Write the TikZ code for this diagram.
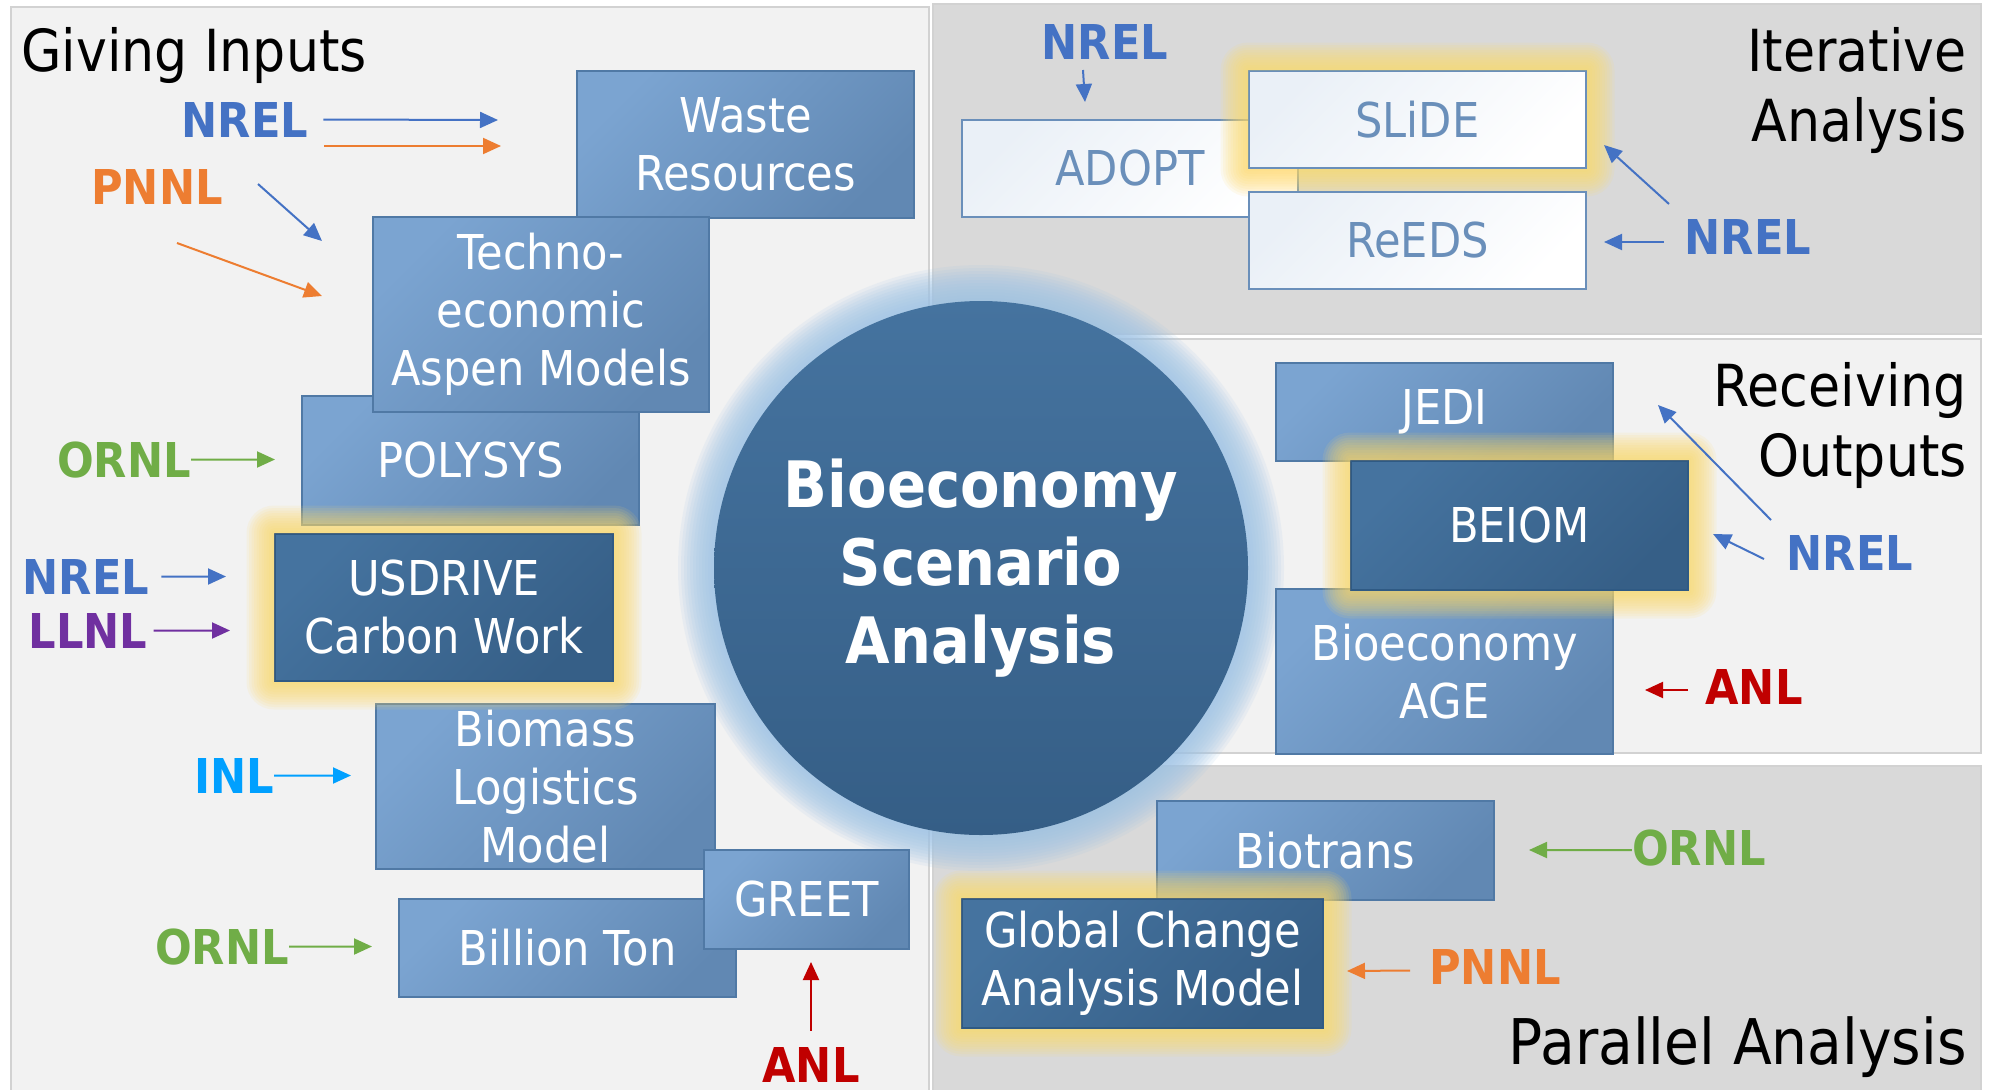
\documentclass[tikz,border=0pt]{standalone}
\usepackage{fontspec}
\setmainfont{DejaVu Sans}[FakeStretch=0.9]
\usepackage{tikz}
\usetikzlibrary{arrows.meta}

\definecolor{nrelc}{HTML}{4472C4}
\definecolor{pnnlc}{HTML}{ED7D31}
\definecolor{ornlc}{HTML}{70AD47}
\definecolor{llnlc}{HTML}{7030A0}
\definecolor{inlc}{HTML}{00A0FF}
\definecolor{anlc}{HTML}{C00000}
\definecolor{panellight}{HTML}{F2F2F2}
\definecolor{paneldark}{HTML}{D9D9D9}
\definecolor{panelline}{HTML}{D2D2D2}
\definecolor{lightT}{HTML}{7BA4D1}
\definecolor{lightB}{HTML}{6188B3}
\definecolor{lightline}{HTML}{5079A5}
\definecolor{darkT}{HTML}{45739F}
\definecolor{darkB}{HTML}{365F87}
\definecolor{darkline}{HTML}{2F5A84}
\definecolor{whiteT}{HTML}{EAF0F7}
\definecolor{whiteline}{HTML}{6A8FBA}
\definecolor{hubT}{HTML}{45739F}
\definecolor{hubB}{HTML}{355E86}
\definecolor{hubglow}{HTML}{9DC3E6}
\definecolor{glowc}{HTML}{FFD966}

\newcommand\boxfont{\fontsize{48}{58}\selectfont}
\newcommand\labfont{\fontsize{48}{58}\selectfont\bfseries}
\newcommand\headfont{\fontsize{58}{70}\selectfont}
\newcommand\hubfont{\fontsize{64}{78}\selectfont\bfseries}

% yellow halo round a node, left outside of it
\newcommand\glowbox[1]{%
  \foreach \gl in {2.5,5,...,27.5}
    \fill[glowc, opacity=.11, even odd rule, rounded corners=\gl pt]
      ([shift={(-\gl pt,-\gl pt)}]#1.south west) rectangle ([shift={(\gl pt,\gl pt)}]#1.north east)
      [sharp corners] (#1.south west) rectangle (#1.north east);
}

\begin{document}
\begin{tikzpicture}[x=1pt,y=-1pt]
\tikzstyle{every node}=[inner sep=0pt]
\tikzstyle{panel}=[draw=panelline, line width=1.5pt]
\tikzstyle{bluebox}=[rectangle, draw=lightline, line width=2pt, top color=lightT, bottom color=lightB, shading angle=45, text=white, align=center, font=\boxfont]
\tikzstyle{navybox}=[bluebox, draw=darkline, top color=darkT, bottom color=darkB, shading angle=45]
\tikzstyle{whitebox}=[bluebox, draw=whiteline, top color=whiteT, bottom color=white, shading angle=45, text=whiteline]
\tikzstyle{lab}=[font=\labfont, anchor=base]
\tikzstyle{head}=[font=\headfont, text=black, align=right]
\tikzstyle{arr}=[line width=2pt, -{Triangle[length=18pt,width=16pt]}]

\useasboundingbox (0,0) rectangle (1998,1090);
\fill[white] (0,0) rectangle (1998,1090);

% panels
\filldraw[panel, fill=panellight] (11,7) rectangle (929,1094);
\filldraw[panel, fill=paneldark] (933,4) rectangle (1981,334);
\filldraw[panel, fill=panellight] (933,339) rectangle (1981,753);
\filldraw[panel, fill=paneldark] (933,766) rectangle (1981,1094);

% centre circle
\foreach \gl in {36,33,...,3}
  \fill[hubglow, opacity=.13] (981,568) circle[radius=267pt+\gl pt];
\node[circle, minimum size=534pt, top color=hubT, bottom color=hubB, text=white, align=center, font=\hubfont] (hub) at (981,568) {Bioeconomy\\Scenario\\Analysis};

% giving inputs
\node[head, anchor=base west] (giving) at (21,71) {Giving Inputs};
\node[bluebox, minimum width=337pt, minimum height=147pt] (waste) at (745.5,144.5) {Waste\\Resources};
\node[bluebox, minimum width=337pt, minimum height=129pt] (polysys) at (470.5,460.5) {POLYSYS};
\node[bluebox, minimum width=336pt, minimum height=195pt] (techno) at (541,314.5) {Techno-\\economic\\Aspen Models};
\node[bluebox, minimum width=339pt, minimum height=165pt] (biomass) at (545.5,786.5) {Biomass\\Logistics\\Model};
\node[bluebox, minimum width=337pt, minimum height=98pt] (billion) at (567.5,948) {Billion Ton};
\node[bluebox, minimum width=205pt, minimum height=99pt] (greet) at (806.5,899.5) {GREET};
\node[navybox, minimum width=338pt, minimum height=147pt] (usdrive) at (444,607.5) {USDRIVE\\Carbon Work};
\glowbox{usdrive}

\node[lab, text=nrelc] (nrelA) at (245,137) {NREL};
\node[lab, text=pnnlc] (pnnlA) at (157,204) {PNNL};
\node[lab, text=ornlc] (ornlA) at (124,477) {ORNL};
\node[lab, text=nrelc] (nrelB) at (86,594) {NREL};
\node[lab, text=llnlc] (llnl) at (88,648) {LLNL};
\node[lab, text=inlc] (inl) at (234,793) {INL};
\node[lab, text=ornlc] (ornlB) at (222,964) {ORNL};
\node[lab, text=anlc] (anlA) at (811,1082) {ANL};

\coordinate (wasteB) at (498,120);
\coordinate (pnnlO1) at (324,146);
\coordinate (wasteO) at (501,146);
\coordinate (nrelB1) at (258,184);
\coordinate (technoB) at (322,241);
\coordinate (pnnlO2) at (177,243);
\coordinate (technoO) at (322,296);
\coordinate (polyIn) at (275,459.5);
\coordinate (usdIn1) at (226,576.5);
\coordinate (usdIn2) at (230,630.5);
\coordinate (bioIn) at (351,775.5);
\coordinate (billIn) at (372,946.5);
\coordinate (greetIn) at (811,962);

\draw[arr, nrelc] ([xshift=15pt]nrelA.east) -- (wasteB);
\draw[arr, pnnlc] (pnnlO1) -- (wasteO);
\draw[arr, nrelc] (nrelB1) -- (technoB);
\draw[arr, pnnlc] (pnnlO2) -- (technoO);
\draw[arr, ornlc] (ornlA.east) -- (polyIn);
\draw[arr, nrelc] ([xshift=12pt]nrelB.east) -- (usdIn1);
\draw[arr, llnlc] ([xshift=6pt]llnl.east) -- (usdIn2);
\draw[arr, inlc] (inl.east) -- (bioIn);
\draw[arr, ornlc] (ornlB.east) -- (billIn);
\draw[arr, anlc] ([yshift=16pt]anlA.north) -- (greetIn);

% iterative analysis
\node[head, anchor=north east] (iterative) at (1967,27) {Iterative\\Analysis};
\node[whitebox, minimum width=336pt, minimum height=97pt] (adopt) at (1130,168.5) {ADOPT};
\node[whitebox, minimum width=337pt, minimum height=97pt] (slide) at (1417.5,119.5) {SLiDE};
\glowbox{slide}
\node[whitebox, minimum width=337pt, minimum height=97pt] (reeds) at (1417.5,240.5) {ReEDS};

\node[lab, text=nrelc] (nrelC) at (1105,59) {NREL};
\node[lab, text=nrelc] (nrelD) at (1748,254) {NREL};
\coordinate (nrelC1) at (1083,70);
\coordinate (adoptIn) at (1085,102);
\coordinate (nrelD1) at (1669,204);
\coordinate (slideIn) at (1604,145);
\coordinate (nrelD2) at (1664,242);
\coordinate (reedsIn) at (1604,242);
\draw[arr, nrelc] (nrelC1) -- (adoptIn);
\draw[arr, nrelc] (nrelD1) -- (slideIn);
\draw[arr, nrelc] (nrelD2) -- (reedsIn);

% receiving outputs
\node[head, anchor=north east] (receiving) at (1967,362) {Receiving\\Outputs};
\node[bluebox, minimum width=337pt, minimum height=98pt] (jedi) at (1444.5,412) {JEDI};
\node[bluebox, minimum width=337pt, minimum height=165pt] (age) at (1444.5,671.5) {Bioeconomy\\AGE};
\node[navybox, minimum width=337pt, minimum height=129pt] (beiom) at (1519.5,525.5) {BEIOM};
\glowbox{beiom}

\node[lab, text=nrelc] (nrelE) at (1850,570) {NREL};
\node[lab, text=anlc] (anlB) at (1754,704) {ANL};
\coordinate (nrelE1) at (1771,520);
\coordinate (jediIn) at (1658,405);
\coordinate (nrelE2) at (1764,559);
\coordinate (beiomIn) at (1713,534);
\coordinate (anlB1) at (1688,690);
\coordinate (ageIn) at (1645,690);
\draw[arr, nrelc] (nrelE1) -- (jediIn);
\draw[arr, nrelc] (nrelE2) -- (beiomIn);
\draw[arr, anlc] (anlB1) -- (ageIn);

% parallel analysis
\node[head, anchor=base east, font=\fontsize{63}{70}\selectfont] (parallel) at (1967,1064) {Parallel Analysis};
\node[bluebox, minimum width=337pt, minimum height=99pt] (biotrans) at (1325.5,850.5) {Biotrans};
\node[navybox, minimum width=361pt, minimum height=129pt] (gcam) at (1142.5,963.5) {Global Change\\Analysis Model};
\glowbox{gcam}

\node[lab, text=ornlc] (ornlC) at (1699,865) {ORNL};
\node[lab, text=pnnlc] (pnnlB) at (1495,984) {PNNL};
\coordinate (biotransIn) at (1529,850);
\coordinate (gcamIn) at (1347,971);
\draw[arr, ornlc] ([yshift=-2.5pt]ornlC.west) -- (biotransIn);
\draw[arr, pnnlc] ([xshift=-19pt,yshift=-4pt]pnnlB.west) -- (gcamIn);
\end{tikzpicture}
\end{document}
